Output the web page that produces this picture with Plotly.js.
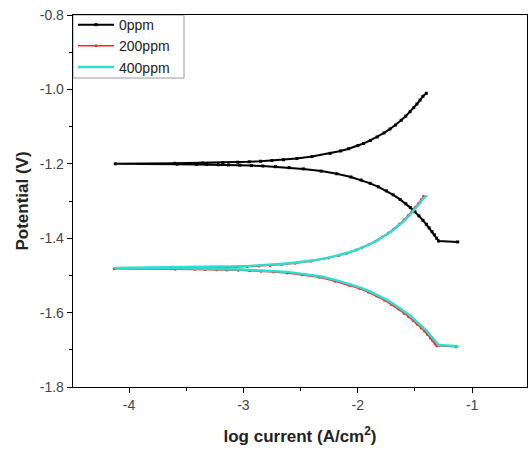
<!DOCTYPE html>
<html>
<head>
<meta charset="utf-8">
<script src="https://cdn.plot.ly/plotly-3.0.1.min.js"></script>
<style>html,body{margin:0;padding:0;background:#fff;}#chart{width:528px;height:450px;}</style>
</head>
<body>
<div id="chart"></div>
<script>
// Series names
const seriesNames = ["0ppm", "200ppm", "400ppm"];

// 0ppm: log current (x) and potential (y), cathodic end -> Ecorr -> anodic end
const logI_0 = [-1.126, -1.294, -1.31, -1.33, -1.35, -1.375, -1.40, -1.43, -1.465, -1.50, -1.54, -1.58, -1.63, -1.69, -1.75, -1.82, -1.891, -1.97, -2.06, -2.183, -2.32, -2.475,
  -2.60, -2.72, -2.83, -2.93, -3.03, -3.13, -3.22, -3.32, -3.41, -3.58, -4.12,
  -3.60, -3.36, -3.18, -3.05, -2.95, -2.85, -2.75, -2.65, -2.533,
  -2.40, -2.242, -2.15, -2.08, -2.00, -1.95, -1.89, -1.83, -1.77, -1.717, -1.67, -1.62, -1.58, -1.542, -1.51, -1.482, -1.455, -1.43, -1.40];
const E_0 = [-1.410, -1.4075, -1.400, -1.391, -1.3825, -1.3723, -1.3626, -1.352, -1.340, -1.329, -1.3178, -1.3074, -1.2957, -1.2834, -1.2726, -1.2618, -1.2525, -1.2437, -1.2355, -1.2268, -1.2196, -1.2137,
  -1.2103, -1.2078, -1.2060, -1.2048, -1.2038, -1.2030, -1.2025, -1.2020, -1.2016, -1.2011, -1.2000,
  -1.1988, -1.1979, -1.1968, -1.1957, -1.1945, -1.1931, -1.1913, -1.1891, -1.1857,
  -1.1806, -1.1720, -1.1654, -1.1594, -1.1512, -1.1454, -1.1372, -1.1280, -1.1171, -1.1063, -1.0959, -1.0830, -1.0718, -1.0600, -1.0492, -1.0390, -1.0287, -1.0185, -1.0105];

// 200ppm
const logI_200 = [-1.14, -1.31, -1.325, -1.345, -1.365, -1.39, -1.415, -1.445, -1.48, -1.515, -1.555, -1.595, -1.645, -1.705, -1.765, -1.835, -1.906, -1.985, -2.075, -2.198, -2.335, -2.49,
  -2.615, -2.735, -2.845, -2.945, -3.045, -3.145, -3.235, -3.335, -3.425, -3.595, -4.13,
  -3.615, -3.375, -3.195, -3.065, -2.965, -2.865, -2.765, -2.665, -2.548,
  -2.415, -2.257, -2.165, -2.095, -2.015, -1.965, -1.905, -1.845, -1.785, -1.732, -1.685, -1.635, -1.595, -1.557, -1.525, -1.497, -1.47, -1.445, -1.425];
const E_200 = [-1.692, -1.689, -1.683, -1.6755, -1.668, -1.659, -1.650, -1.6415, -1.631, -1.6215, -1.611, -1.6015, -1.5905, -1.5785, -1.567, -1.5555, -1.5455, -1.5355, -1.5265, -1.5155, -1.505, -1.498,
  -1.4933, -1.4907, -1.4887, -1.4873, -1.4862, -1.4854, -1.4847, -1.4842, -1.4838, -1.4832, -1.4820,
  -1.4807, -1.4798, -1.4787, -1.4775, -1.4764, -1.4749, -1.4731, -1.4708, -1.4673,
  -1.4621, -1.4534, -1.4466, -1.4404, -1.4320, -1.4259, -1.4176, -1.4080, -1.3971, -1.3860, -1.3751, -1.3620, -1.3505, -1.3384, -1.3275, -1.3171, -1.3066, -1.2962, -1.2875];

// 400ppm
const logI_400 = [-1.126, -1.294, -1.31, -1.33, -1.35, -1.375, -1.40, -1.43, -1.465, -1.50, -1.54, -1.58, -1.63, -1.69, -1.75, -1.82, -1.891, -1.97, -2.06, -2.183, -2.32, -2.475,
  -2.60, -2.72, -2.83, -2.93, -3.03, -3.13, -3.22, -3.32, -3.41, -3.58, -4.12,
  -3.60, -3.36, -3.18, -3.05, -2.95, -2.85, -2.75, -2.65, -2.533,
  -2.40, -2.242, -2.15, -2.08, -2.00, -1.95, -1.89, -1.83, -1.77, -1.717, -1.67, -1.62, -1.58, -1.542, -1.51, -1.482, -1.455, -1.43, -1.40];
const E_400 = [-1.690, -1.687, -1.681, -1.6735, -1.666, -1.657, -1.648, -1.6395, -1.629, -1.6195, -1.609, -1.5995, -1.5885, -1.5765, -1.565, -1.5535, -1.5435, -1.5335, -1.5245, -1.5135, -1.503, -1.496,
  -1.4913, -1.4887, -1.4867, -1.4853, -1.4842, -1.4834, -1.4827, -1.4822, -1.4818, -1.4812, -1.4800,
  -1.4787, -1.4778, -1.4767, -1.4755, -1.4744, -1.4729, -1.4711, -1.4688, -1.4653,
  -1.4601, -1.4514, -1.4446, -1.4384, -1.4300, -1.4239, -1.4156, -1.4060, -1.3951, -1.3840, -1.3731, -1.3600, -1.3485, -1.3364, -1.3255, -1.3151, -1.3046, -1.2942, -1.2870];

// Tick labels
const xTickVals = [-4, -3, -2, -1];
const xTickText = ["-4", "-3", "-2", "-1"];
const xMinorVals = [-3.5, -2.5, -1.5];
const yTickVals = [-0.8, -1.0, -1.2, -1.4, -1.6, -1.8];
const yTickText = ["-0.8", "-1.0", "-1.2", "-1.4", "-1.6", "-1.8"];
const yMinorVals = [-0.9, -1.1, -1.3, -1.5, -1.7];

const FONT = "Liberation Sans, Arial, sans-serif";

const traces = [
  {x: logI_0, y: E_0, name: seriesNames[0], mode: "lines+markers",
   line: {color: "#000000", width: 2}, marker: {color: "#000000", size: 3, symbol: "square"}},
  {x: logI_200, y: E_200, name: seriesNames[1], mode: "lines+markers",
   line: {color: "#e8312a", width: 1.5}, marker: {color: "#e8312a", size: 3, symbol: "circle"}},
  {x: logI_400, y: E_400, name: seriesNames[2], mode: "lines+markers",
   line: {color: "#30dccd", width: 2.4}, marker: {color: "#30dccd", size: 3, symbol: "triangle-up"}}
];

const axisCommon = {
  showline: true, linecolor: "#000", linewidth: 1.3, mirror: true,
  ticks: "outside", ticklen: 5, tickwidth: 1, tickcolor: "#000",
  showgrid: false, zeroline: false, automargin: false,
  tickfont: {family: FONT, size: 14, color: "#444"},
  tickmode: "array"
};

const layout = {
  width: 528, height: 450,
  margin: {l: 73, r: 1, t: 15, b: 63},
  paper_bgcolor: "#fff", plot_bgcolor: "#fff",
  font: {family: FONT},
  showlegend: true,
  legend: {x: 0, y: 1.016, xanchor: "left", yanchor: "top", bgcolor: "rgba(0,0,0,0)",
    borderwidth: 0, font: {family: FONT, size: 14, color: "#222"},
    tracegroupgap: 0, itemwidth: 36},
  shapes: [
    {type: "rect", xref: "paper", yref: "paper", x0: 0, x1: 0.2445, y0: 0.8306, y1: 1,
     line: {color: "#999", width: 1}, fillcolor: "rgba(0,0,0,0)", layer: "below"}
  ],
  xaxis: Object.assign({}, axisCommon, {
    range: [-4.49, -0.52], tickvals: xTickVals, ticktext: xTickText,
    minor: {tickmode: "array", tickvals: xMinorVals, ticks: "outside", ticklen: 3, tickcolor: "#000"},
    title: {text: "<b>log current (A/cm<sup>2</sup>)</b>", font: {family: FONT, size: 17, color: "#222"}, standoff: 18}
  }),
  yaxis: Object.assign({}, axisCommon, {
    range: [-1.8, -0.8], tickvals: yTickVals, ticktext: yTickText,
    minor: {tickmode: "array", tickvals: yMinorVals, ticks: "outside", ticklen: 3, tickcolor: "#000"},
    title: {text: "<b>Potential (V)</b>", font: {family: FONT, size: 17, color: "#222"}, standoff: 6}
  })
};

Plotly.newPlot("chart", traces, layout, {displayModeBar: false, staticPlot: true});
</script>
</body>
</html>
